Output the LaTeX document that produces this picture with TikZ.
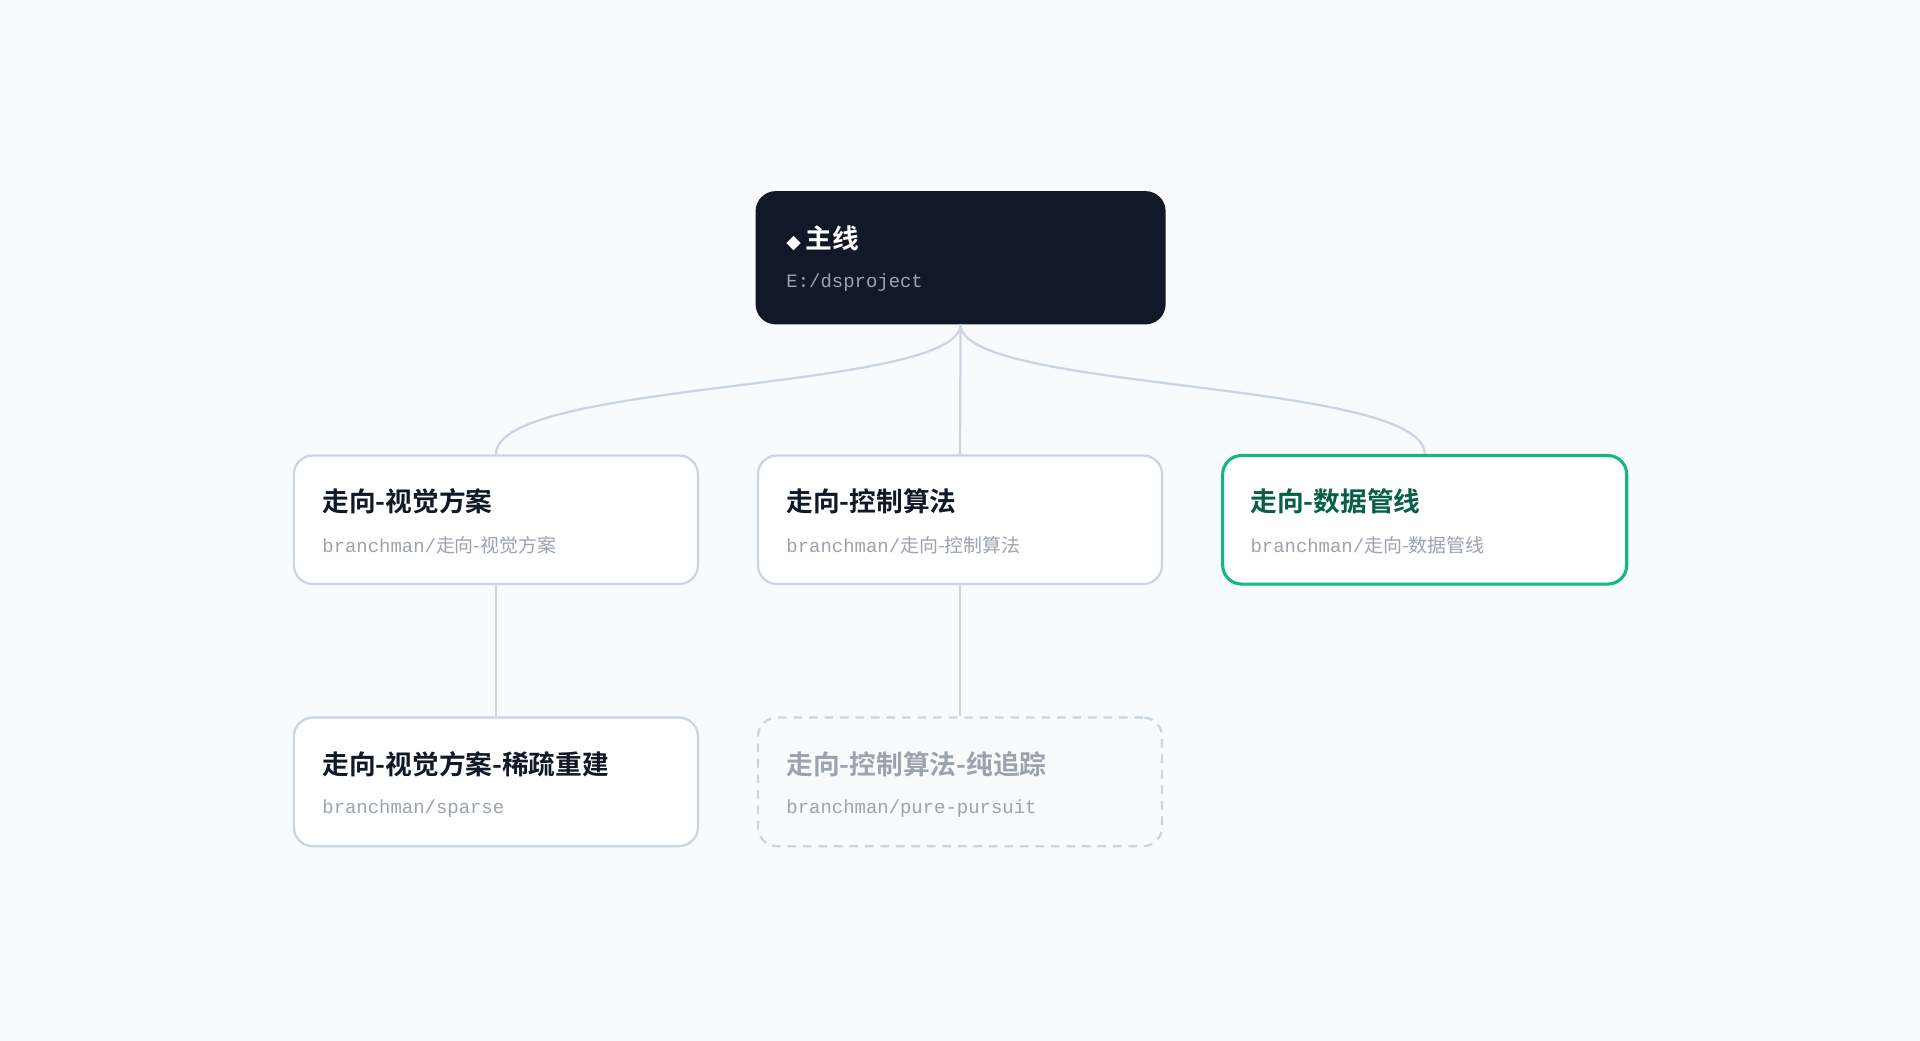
\documentclass[tikz,border=0pt]{standalone}
\usepackage{fontspec}
\newfontfamily\cjk{Noto Sans CJK SC}
\newfontfamily\cjkb{Noto Sans CJK SC Bold}
\newfontfamily\mono{Liberation Mono}
\newfontfamily\sym{DejaVu Sans}
\usetikzlibrary{positioning}
\definecolor{bg}{HTML}{F9FAFB}
\definecolor{ink}{HTML}{111827}
\definecolor{edge}{HTML}{CBD5E1}
\definecolor{okgreen}{HTML}{10B981}
\definecolor{okdark}{HTML}{065F46}
\definecolor{mute}{HTML}{9CA3AF}
\definecolor{ghost}{HTML}{F8FAFC}
\newcommand{\sub}[2]{{\mono #1}{\cjk #2}}
\tikzset{
  box/.style={draw=edge, line width=1.3pt, fill=white, rounded corners=11pt,
    minimum width=330*0.025cm, minimum height=105*0.025cm, inner sep=0pt},
  head/.style={anchor=west, inner sep=0pt, font=\cjkb\fontsize{15.5}{18}\selectfont, text=ink},
  path/.style={anchor=west, inner sep=0pt, font=\fontsize{11}{13}\selectfont, text=mute},
  link/.style={draw=edge, line width=1.3pt}
}
\begin{document}
\begin{tikzpicture}[x=0.025cm, y=-0.025cm]
\fill[bg] (0,0) rectangle (1568,850);
\useasboundingbox (0,0) rectangle (1568,850);

\node[box, fill=ink, draw=ink, minimum width=333*0.025cm, minimum height=107*0.025cm](main) at (784.5,210.5) {};
\node[head, text=white](mainT) at (642,195) {{\sym\fontsize{11}{13}\selectfont ◆}\,主线};
\node[path](mainP) at (642,231) {\mono E:/dsproject};

\node[box](vis) at (405,424.5) {};
\node[head](visT) at (263,409) {走向-视觉方案};
\node[path](visP) at (263,445) {\sub{branchman/}{走向-视觉方案}};

\node[box](ctl) at (784,424.5) {};
\node[head](ctlT) at (642,409) {走向-控制算法};
\node[path](ctlP) at (642,445) {\sub{branchman/}{走向-控制算法}};

\node[box, draw=okgreen, line width=1.8pt](data) at (1163.5,424.5) {};
\node[head, text=okdark](dataT) at (1021,409) {走向-数据管线};
\node[path](dataP) at (1021,445) {\sub{branchman/}{走向-数据管线}};

\node[box](sparse) at (405,638.5) {};
\node[head](sparseT) at (263,624) {走向-视觉方案-稀疏重建};
\node[path](sparseP) at (263,660) {\mono branchman/sparse};

\node[box, fill=ghost, dash pattern=on 5pt off 4pt](pure) at (784,638.5) {};
\node[head, text=mute](pureT) at (642,624) {走向-控制算法-纯追踪};
\node[path](pureP) at (642,660) {\mono branchman/pure-pursuit};

\draw[link] (main.south) .. controls (784,320) and (405,310) .. (vis.north);
\draw[link] (main.south) -- (ctl.north);
\draw[link] (main.south) .. controls (784,320) and (1163,310) .. (data.north);
\draw[link] (vis.south) -- (sparse.north);
\draw[link] (ctl.south) -- (pure.north);
\end{tikzpicture}
\end{document}
